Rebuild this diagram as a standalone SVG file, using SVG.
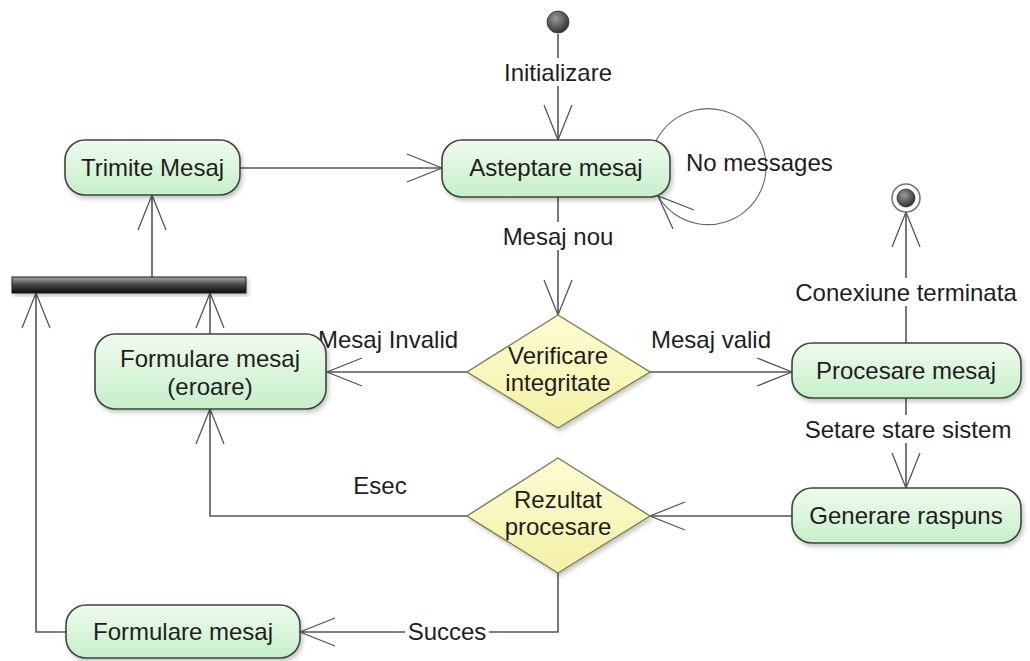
<svg xmlns="http://www.w3.org/2000/svg" width="1030" height="661" viewBox="0 0 1030 661">
  <defs>
    <style>
      text { font-family: "Liberation Sans", Arial, sans-serif; font-size: 24px; fill: #1e1e1e; }
      .mid { text-anchor: middle; }
      .act { fill: url(#actFill); stroke: #3c463c; stroke-width: 1.6; filter: url(#shadow); }
      .dec { fill: url(#decFill); stroke: #7d7d55; stroke-width: 1.4; filter: url(#shadow); }
      .flow { fill: none; stroke: #555; stroke-width: 1.6; }
      .loop { fill: none; stroke: #666; stroke-width: 1.1; }
      .head { fill: none; stroke: #555; stroke-width: 1.3; }
      .lblbg { fill: #fff; }
    </style>
    <linearGradient id="actFill" x1="0" y1="0" x2="0" y2="1">
      <stop offset="0" stop-color="#f0fbee"/>
      <stop offset="1" stop-color="#c6efca"/>
    </linearGradient>
    <linearGradient id="decFill" x1="0" y1="0" x2="0" y2="1">
      <stop offset="0" stop-color="#fdfdd2"/>
      <stop offset="1" stop-color="#f3f0a6"/>
    </linearGradient>
    <linearGradient id="barFill" x1="0" y1="0" x2="0" y2="1">
      <stop offset="0" stop-color="#a8a8a8"/>
      <stop offset="0.5" stop-color="#444"/>
      <stop offset="1" stop-color="#0e0e0e"/>
    </linearGradient>
    <radialGradient id="dotFill" cx="0.4" cy="0.35" r="0.7">
      <stop offset="0" stop-color="#9a9a9a"/>
      <stop offset="1" stop-color="#2a2a2a"/>
    </radialGradient>
    <filter id="shadow" x="-10%" y="-10%" width="125%" height="135%">
      <feDropShadow dx="2" dy="3" stdDeviation="2" flood-color="#000" flood-opacity="0.22"/>
    </filter>
    <marker id="open" markerUnits="userSpaceOnUse" viewBox="-38 -16 40 32" refX="0" refY="0" markerWidth="40" markerHeight="32" orient="auto">
      <path class="head" d="M-35,-14 L0,0 L-35,14"/>
    </marker>
  </defs>

  <!-- connectors -->
  <g id="connectors">
    <path class="flow" d="M558,34 V140" marker-end="url(#open)"/>
    <path class="flow" d="M240,168 H442" marker-end="url(#open)"/>
    <path class="flow" d="M558,197 V315" marker-end="url(#open)"/>
    <path class="loop" d="M656,141 A58,58 0 1,1 658,196"/>
    <polyline class="head" points="694,210 658,196 673,229"/>
    <path class="flow" d="M467,372 H327" marker-end="url(#open)"/>
    <path class="flow" d="M650,372 H792" marker-end="url(#open)"/>
    <path class="flow" d="M906,343 V212" marker-end="url(#open)"/>
    <path class="flow" d="M906,398 V488" marker-end="url(#open)"/>
    <path class="flow" d="M792,516 H650" marker-end="url(#open)"/>
    <path class="flow" d="M467,516 H210 V409" marker-end="url(#open)"/>
    <path class="flow" d="M558,573 V632 H300" marker-end="url(#open)"/>
    <path class="flow" d="M66,632 H36 V293" marker-end="url(#open)"/>
    <path class="flow" d="M210,334 V293" marker-end="url(#open)"/>
    <path class="flow" d="M152,277 V195" marker-end="url(#open)"/>

    <!-- flow labels -->
    <rect class="lblbg" x="497" y="58" width="122" height="28"/>
    <text class="mid" x="558" y="81">Initializare</text>
    <rect class="lblbg" x="496" y="222" width="124" height="28"/>
    <text class="mid" x="558" y="245">Mesaj nou</text>
    <text x="686" y="171">No messages</text>
    <text x="318" y="348">Mesaj Invalid</text>
    <text x="651" y="348">Mesaj valid</text>
    <rect class="lblbg" x="788" y="278" width="238" height="28"/>
    <text class="mid" x="906" y="301">Conexiune terminata</text>
    <rect class="lblbg" x="796" y="415" width="226" height="28"/>
    <text class="mid" x="908" y="438">Setare stare sistem</text>
    <text class="mid" x="380" y="494">Esec</text>
    <rect class="lblbg" x="405" y="618" width="84" height="28"/>
    <text class="mid" x="447" y="640">Succes</text>
  </g>

  <!-- start / end -->
  <g id="initial">
    <circle cx="558" cy="22" r="11" fill="url(#dotFill)" stroke="#333" stroke-width="0.8"/>
  </g>
  <g id="final">
    <circle cx="906" cy="198" r="14" fill="#fff" stroke="#777" stroke-width="1.6"/>
    <circle cx="906" cy="198" r="9" fill="url(#dotFill)" stroke="#333" stroke-width="0.8"/>
  </g>

  <!-- fork bar -->
  <g id="fork">
    <rect x="12" y="277" width="234" height="16" fill="url(#barFill)" stroke="#1a1a1a" stroke-width="1" filter="url(#shadow)"/>
  </g>

  <!-- activities -->
  <g id="trimite-mesaj">
    <rect class="act" x="65" y="140" width="175" height="55" rx="20"/>
    <text class="mid" x="152.5" y="176">Trimite Mesaj</text>
  </g>
  <g id="asteptare-mesaj">
    <rect class="act" x="442" y="140" width="228" height="57" rx="20"/>
    <text class="mid" x="556" y="176">Asteptare mesaj</text>
  </g>
  <g id="formulare-eroare">
    <rect class="act" x="95" y="334" width="231" height="75" rx="20"/>
    <text class="mid" x="210" y="367">Formulare mesaj</text>
    <text class="mid" x="210" y="395">(eroare)</text>
  </g>
  <g id="procesare-mesaj">
    <rect class="act" x="792" y="343" width="229" height="55" rx="20"/>
    <text class="mid" x="906" y="379">Procesare mesaj</text>
  </g>
  <g id="generare-raspuns">
    <rect class="act" x="792" y="488" width="229" height="55" rx="20"/>
    <text class="mid" x="906" y="524">Generare raspuns</text>
  </g>
  <g id="formulare-mesaj">
    <rect class="act" x="66" y="605" width="234" height="53" rx="20"/>
    <text class="mid" x="183" y="640">Formulare mesaj</text>
  </g>

  <!-- decisions -->
  <g id="verificare-integritate">
    <polygon class="dec" points="558,315 650,372 558,428 467,372"/>
    <text class="mid" x="558" y="364">Verificare</text>
    <text class="mid" x="558" y="391">integritate</text>
  </g>
  <g id="rezultat-procesare">
    <polygon class="dec" points="558,458 650,516 558,573 467,516"/>
    <text class="mid" x="558" y="508">Rezultat</text>
    <text class="mid" x="558" y="535">procesare</text>
  </g>
</svg>
